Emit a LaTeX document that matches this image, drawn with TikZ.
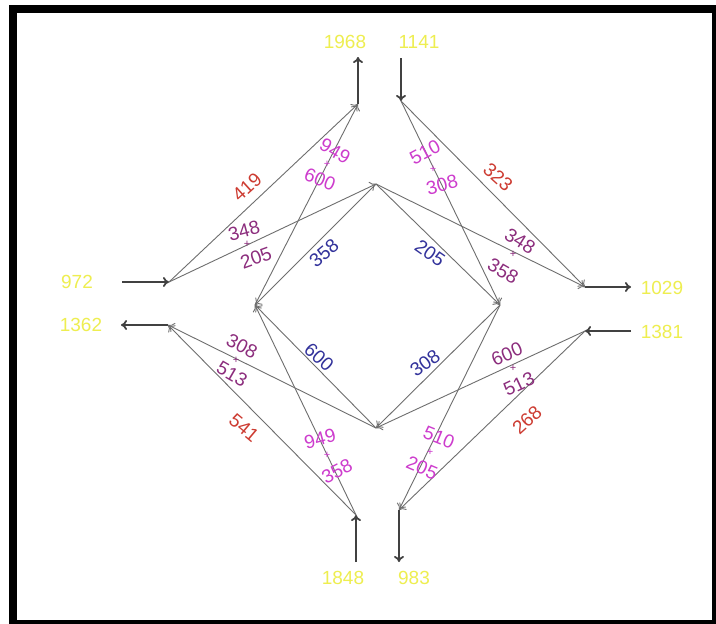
\documentclass[tikz,border=0pt]{standalone}
\usepackage{fontspec}
\setmainfont{Liberation Sans}
\usetikzlibrary{arrows.meta}
\definecolor{flowyellow}{RGB}{238,238,80}
\definecolor{flowred}{RGB}{205,60,50}
\definecolor{flowblue}{RGB}{50,50,155}
\definecolor{flowmag}{RGB}{205,60,205}
\definecolor{flowpurple}{RGB}{140,45,125}
\definecolor{linkgray}{RGB}{110,110,110}
\definecolor{maingray}{RGB}{65,65,65}
\begin{document}
\begin{tikzpicture}[x=1pt,y=-1pt,
  link/.style={draw=linkgray,line width=0.9pt,-{To[length=6pt,width=10pt]}},
  mainarrow/.style={draw=maingray,line width=1.8pt,-{To[length=6pt,width=10pt]}},
  endlabel/.style={text=flowyellow,font=\fontsize{19}{19}\selectfont,inner sep=0pt},
  numlabel/.style={font=\fontsize{19}{19}\selectfont,inner sep=0pt},
  plus/.style={font=\fontsize{11}{11}\selectfont,inner sep=0pt}]
\useasboundingbox (0,0) rectangle (716,624);
\fill[white] (0,0) rectangle (716,624);
\draw[line width=8pt] (13,9) rectangle (716,624);

% junctions
\coordinate (N1) at (358,104);
\coordinate (T1) at (358,57);
\coordinate (N2) at (401,101);
\coordinate (T2) at (401,58);
\coordinate (N3) at (169,282);
\coordinate (L1) at (122,282);
\coordinate (N4) at (168,325);
\coordinate (L2) at (121,325);
\coordinate (N5) at (585,287);
\coordinate (R1) at (631,287);
\coordinate (N6) at (585,331);
\coordinate (R2) at (631,331);
\coordinate (N7) at (356,515);
\coordinate (B1) at (356,562);
\coordinate (N8) at (399,510);
\coordinate (B2) at (399,562);
\coordinate (DT) at (376,184);
\coordinate (DL) at (255,305);
\coordinate (DR) at (500,305);
\coordinate (DB) at (376,428);

% end labels
\node[endlabel] (y1968) at (345,42) {1968};
\node[endlabel] (y1141) at (419,42) {1141};
\node[endlabel] (y972) at (77,282) {972};
\node[endlabel] (y1362) at (81,325) {1362};
\node[endlabel] (y1029) at (662,288) {1029};
\node[endlabel] (y1381) at (662,332) {1381};
\node[endlabel] (y1848) at (343,578) {1848};
\node[endlabel] (y983) at (414,578) {983};

% main arrows
\draw[mainarrow] (N1) -- (T1);
\draw[mainarrow] (T2) -- (N2);
\draw[mainarrow] (L1) -- (N3);
\draw[mainarrow] (N4) -- (L2);
\draw[mainarrow] (N5) -- (R1);
\draw[mainarrow] (R2) -- (N6);
\draw[mainarrow] (B1) -- (N7);
\draw[mainarrow] (N8) -- (B2);

% links
\draw[link] (N3) -- (N1);
\draw[link] (N3) -- (DT);
\draw[link] (DT) -- (DL);
\draw[link] (DT) -- (DR);
\draw[link] (DT) -- (N5);
\draw[link] (N2) -- (N5);
\draw[link] (N2) -- (DR);
\draw[link] (DL) -- (N1);
\draw[link] (DB) -- (DL);
\draw[link] (DB) -- (N4);
\draw[link] (N7) -- (N4);
\draw[link] (N7) -- (DL);
\draw[link] (DR) -- (DB);
\draw[link] (DR) -- (N8);
\draw[link] (N6) -- (DB);
\draw[link] (N6) -- (N8);

% link labels
\node[numlabel,text=flowred,rotate=42] (a419) at (247,187) {419};
\node[numlabel,text=flowmag,rotate=-30] (a949) at (335,151) {949};
\node[plus,text=flowmag] (p1) at (327,164) {+};
\node[numlabel,text=flowmag,rotate=-22] (a600) at (320,179) {600};
\node[numlabel,text=flowpurple,rotate=15] (a348) at (244,231) {348};
\node[plus,text=flowpurple] (p2) at (247,244) {+};
\node[numlabel,text=flowpurple,rotate=20] (a205) at (256,258) {205};
\node[numlabel,text=flowblue,rotate=40] (b358) at (324,253) {358};

\node[numlabel,text=flowmag,rotate=28] (c510) at (425,152) {510};
\node[plus,text=flowmag] (p3) at (433,169) {+};
\node[numlabel,text=flowmag,rotate=15] (c308) at (442,185) {308};
\node[numlabel,text=flowred,rotate=-42] (c323) at (498,177) {323};
\node[numlabel,text=flowblue,rotate=-35] (b205) at (430,253) {205};
\node[numlabel,text=flowpurple,rotate=-32] (c348) at (520,241) {348};
\node[plus,text=flowpurple] (p4) at (513,254) {+};
\node[numlabel,text=flowpurple,rotate=-30] (c358) at (503,271) {358};

\node[numlabel,text=flowpurple,rotate=-28] (d308) at (242,346) {308};
\node[plus,text=flowpurple] (p5) at (236,360) {+};
\node[numlabel,text=flowpurple,rotate=-30] (d513) at (232,374) {513};
\node[numlabel,text=flowblue,rotate=-42] (b600) at (319,357) {600};
\node[numlabel,text=flowred,rotate=-40] (d541) at (244,428) {541};
\node[numlabel,text=flowmag,rotate=15] (d949) at (320,439) {949};
\node[plus,text=flowmag] (p6) at (327,455) {+};
\node[numlabel,text=flowmag,rotate=28] (d358) at (337,471) {358};

\node[numlabel,text=flowblue,rotate=36] (b308) at (425,363) {308};
\node[numlabel,text=flowpurple,rotate=23] (e600) at (507,354) {600};
\node[plus,text=flowpurple] (p7) at (513,368) {+};
\node[numlabel,text=flowpurple,rotate=25] (e513) at (519,384) {513};
\node[numlabel,text=flowred,rotate=42] (e268) at (527,420) {268};
\node[numlabel,text=flowmag,rotate=-22] (e510) at (439,437) {510};
\node[plus,text=flowmag] (p8) at (430,452) {+};
\node[numlabel,text=flowmag,rotate=-23] (e205) at (422,468) {205};
\end{tikzpicture}
\end{document}
